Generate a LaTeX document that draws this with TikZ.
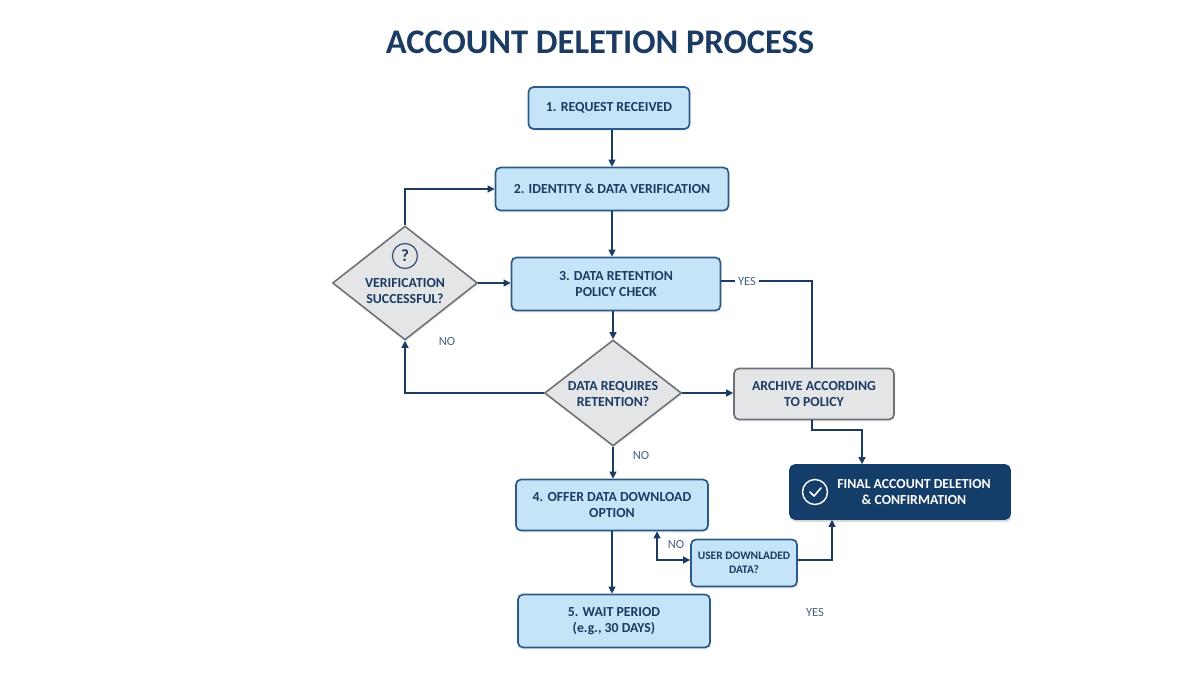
\documentclass[tikz,border=0pt]{standalone}
\usepackage{fontspec}
\setmainfont{Carlito}
\usetikzlibrary{shapes.geometric,arrows.meta,shadows}
\definecolor{navy}{HTML}{1B3B63}
\definecolor{lblue}{HTML}{C6E4F8}
\definecolor{bord}{HTML}{2B5A8A}
\definecolor{gfill}{HTML}{E4E5E7}
\definecolor{gbord}{HTML}{6E7278}
\definecolor{dark}{HTML}{153D69}
\begin{document}
\begin{tikzpicture}[x=1pt,y=-1pt,
  every node/.style={font=\bfseries\fontsize{13.8}{15.5}\selectfont, text=navy, align=center},
  box/.style={draw=bord, line width=1.7pt, fill=lblue, rounded corners=5pt, inner sep=0pt, drop shadow={opacity=0.12,shadow xshift=1pt,shadow yshift=-2pt}},
  gbox/.style={box, draw=gbord, fill=gfill},
  dia/.style={diamond, draw=gbord, line width=1.6pt, fill=gfill, inner sep=0pt, drop shadow={opacity=0.12,shadow xshift=1pt,shadow yshift=-2pt}},
  lab/.style={font=\fontsize{12.5}{14}\selectfont, text=navy!80},
  con/.style={draw=navy, line width=1.3pt},
  arr/.style={con, -{Triangle[length=7pt,width=7pt]}}]
\useasboundingbox (0,0) rectangle (1200,685);
\node[font=\bfseries\fontsize{34.5}{36}\selectfont] (title) at (600,42) {ACCOUNT DELETION PROCESS};
\node[box, minimum width=161, minimum height=42] (n1) at (609,108) {1. REQUEST RECEIVED};
\node[box, minimum width=233, minimum height=43] (n2) at (612,189) {2. IDENTITY \& DATA VERIFICATION};
\node[dia, minimum width=145, minimum height=114] (d1) at (405,283) {};
\node at (405,291) {VERIFICATION\\SUCCESSFUL?};
\node[draw=navy!85, line width=1.3pt, circle, minimum size=25, inner sep=0pt, font=\bfseries\fontsize{17}{18}\selectfont] (q) at (405,256) {?};
\node[box, minimum width=209, minimum height=53] (n3) at (616,284) {3. DATA RETENTION\\POLICY CHECK};
\node[dia, minimum width=137, minimum height=106] (d2) at (613,393) {};
\node at (613,394) {DATA REQUIRES\\RETENTION?};
\node[gbox, minimum width=160, minimum height=51] (ar) at (814,394) {ARCHIVE ACCORDING\\TO POLICY};
\node[box, draw=dark, fill=dark, minimum width=220, minimum height=54, text=white, drop shadow={opacity=0.25,shadow xshift=1pt,shadow yshift=-3pt}] (fin) at (900,492) {\hspace*{28pt}FINAL ACCOUNT DELETION\\\hspace*{28pt}\& CONFIRMATION};
\node[draw=white, line width=1.4pt, circle, minimum size=25, inner sep=0pt] (ck) at (815,492) {};
\draw[white, line width=1.6pt, line cap=round, line join=round] ([shift={(-5,0)}]ck.center) -- ([shift={(-1,4)}]ck.center) -- ([shift={(6,-4)}]ck.center);
\node[box, minimum width=192, minimum height=51] (n4) at (612,505) {4. OFFER DATA DOWNLOAD\\OPTION};
\node[box, minimum width=106, minimum height=47, font=\bfseries\fontsize{11.5}{13.5}\selectfont] (us) at (744,563) {USER DOWNLADED\\DATA?};
\node[box, minimum width=192, minimum height=53] (n5) at (614,621) {5. WAIT PERIOD\\(e.g., 30 DAYS)};
% connectors
\draw[arr] (n1.south -| 612,0) -- (n2.north -| 612,0);
\draw[arr] (n2.south -| 612,0) -- (n3.north -| 612,0);
\draw[arr] (d1.north) |- (n2.west);
\draw[arr] (d1.east) -- (n3.west |- d1.east);
\draw[arr] (d2.west) -| (d1.south);
\node[lab] (no1) at (447,341) {NO};
\draw[arr] (n3.south -| 613,0) -- (d2.north);
\draw[arr] (d2.east) -- (ar.west |- d2.east);
\node[lab] (yes1) at (747,281) {YES};
\draw[con] (n3.east |- yes1) -- (yes1.west);
\draw[con] (yes1.east) -| (ar.north -| 812,0);
\coordinate (a1) at (812,430);
\draw[arr] (ar.south -| 812,0) -- (a1) -| (fin.north -| 862,0);
\draw[arr] (d2.south) -- (n4.north -| 613,0);
\node[lab] (no2) at (641,455) {NO};
\draw[arr] (n4.south -| 612,0) -- (n5.north -| 612,0);
\coordinate (b1) at (657,560);
\draw[con, {Triangle[length=7pt,width=7pt]}-{Triangle[length=7pt,width=7pt]}] (n4.south -| b1) -- (b1) -- (us.west |- b1);
\node[lab] (no3) at (676,544) {NO};
\draw[arr] (us.east |- b1) -| (fin.south -| 832,0);
\node[lab] (yes2) at (815,612) {YES};
\end{tikzpicture}
\end{document}
